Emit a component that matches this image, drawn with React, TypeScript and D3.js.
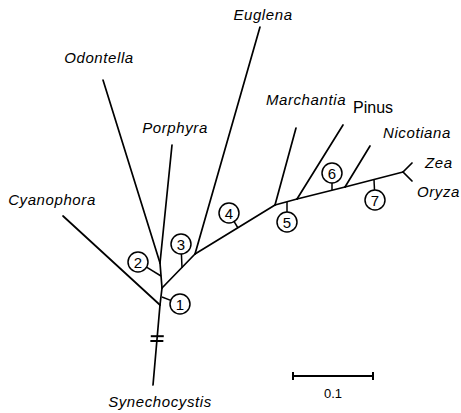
import React, { useRef, useEffect } from 'react';
import * as d3 from 'd3';

// node positions in tree units (substitutions per site), y pointing up
const nodeIds = ['root', 'syn', 'cya', 'n1', 'n2', 'odo', 'por', 'n3', 'eug', 'n4', 'mar', 'n5', 'pin', 'n6', 'nic', 'n7', 'zea', 'ory'];
const nodeX = [0, -0.00875, -0.12125, 0.0025, 0, -0.07125, 0.015, 0.04375, 0.125, 0.14375, 0.17, 0.17125, 0.22875, 0.23125, 0.2625, 0.30375, 0.315, 0.315];
const nodeY = [0, -0.1, 0.11125, 0.02125, 0.0525, 0.28125, 0.2, 0.06375, 0.3475, 0.125, 0.22125, 0.1325, 0.225, 0.1475, 0.19875, 0.16625, 0.1775, 0.155];

// branches: parent -> child
const edgeFrom = ['root', 'root', 'root', 'n1', 'n2', 'n2', 'n1', 'n3', 'n3', 'n4', 'n4', 'n5', 'n5', 'n6', 'n6', 'n7', 'n7'];
const edgeTo = ['syn', 'cya', 'n1', 'n2', 'odo', 'por', 'n3', 'eug', 'n4', 'mar', 'n5', 'pin', 'n6', 'nic', 'n7', 'zea', 'ory'];

// taxa at the tips
const tipIds = ['syn', 'cya', 'odo', 'por', 'eug', 'mar', 'pin', 'nic', 'zea', 'ory'];
const tipNames = ['Synechocystis', 'Cyanophora', 'Odontella', 'Porphyra', 'Euglena', 'Marchantia', 'Pinus', 'Nicotiana', 'Zea', 'Oryza'];

// numbered events: where the tick leaves the branch and where the circle sits
const markerLabels = ['1', '2', '3', '4', '5', '6', '7'];
const markerAttachX = [0.0025, 0.00125, 0.0275, 0.0975, 0.15875, 0.215, 0.2675];
const markerAttachY = [0.01, 0.03625, 0.04625, 0.09625, 0.12875, 0.14375, 0.15625];
const markerX = [0.025, -0.0275, 0.02625, 0.08625, 0.15875, 0.215, 0.26875];
const markerY = [0.00125, 0.05375, 0.07625, 0.115, 0.10375, 0.165, 0.13125];

const scaleBarLength = 0.1;
const scaleBarLabel = '0.1';

// label placement (px offsets from tip)
const labelLayout = {
  syn: { dx: 7, dy: 22, anchor: 'middle' },
  cya: { dx: -11, dy: -11, anchor: 'middle' },
  odo: { dx: -4, dy: -17, anchor: 'middle' },
  por: { dx: 3, dy: -12, anchor: 'middle' },
  eug: { dx: 3, dy: -7, anchor: 'middle' },
  mar: { dx: 10, dy: -23, anchor: 'middle' },
  pin: { dx: 10, dy: -12, anchor: 'start' },
  nic: { dx: 13, dy: -8, anchor: 'start' },
  zea: { dx: 13, dy: 5, anchor: 'start' },
  ory: { dx: 5, dy: 16, anchor: 'start' },
};

const App = () => {
  const ref = useRef(null);
  const width = 461;
  const height = 413;

  useEffect(() => {
    const svg = d3.select(ref.current);
    svg.selectAll('*').remove();

    const x = d3.scaleLinear().domain([0, 1]).range([160, 960]);
    const y = d3.scaleLinear().domain([0, 1]).range([305, -495]);

    const pos = {};
    nodeIds.forEach((id, i) => {
      pos[id] = [x(nodeX[i]), y(nodeY[i])];
    });

    const font = 'Liberation Sans, Arial, Helvetica, sans-serif';

    // branches
    svg.append('g')
      .selectAll('line')
      .data(edgeFrom.map((f, i) => [f, edgeTo[i]]))
      .enter()
      .append('line')
      .attr('x1', d => pos[d[0]][0])
      .attr('y1', d => pos[d[0]][1])
      .attr('x2', d => pos[d[1]][0])
      .attr('y2', d => pos[d[1]][1])
      .attr('stroke', '#000')
      .attr('stroke-width', 1.7)
      .attr('stroke-linecap', 'round');

    // break on the outgroup branch
    const [rx, ry] = pos.root;
    const [sx, sy] = pos.syn;
    [0.39, 0.45].forEach(t => {
      const cx = rx + (sx - rx) * t;
      const cy = ry + (sy - ry) * t;
      svg.append('line')
        .attr('x1', cx - 6.5)
        .attr('x2', cx + 6.5)
        .attr('y1', cy)
        .attr('y2', cy)
        .attr('stroke', '#000')
        .attr('stroke-width', 2);
    });

    // numbered markers
    const r = 10;
    markerLabels.forEach((lab, i) => {
      const ax = x(markerAttachX[i]);
      const ay = y(markerAttachY[i]);
      const cx = x(markerX[i]);
      const cy = y(markerY[i]);
      const len = Math.hypot(cx - ax, cy - ay);
      const ex = cx - ((cx - ax) / len) * r;
      const ey = cy - ((cy - ay) / len) * r;
      svg.append('line')
        .attr('x1', ax).attr('y1', ay)
        .attr('x2', ex).attr('y2', ey)
        .attr('stroke', '#000')
        .attr('stroke-width', 1.5);
      svg.append('circle')
        .attr('cx', cx).attr('cy', cy)
        .attr('r', r)
        .attr('fill', '#fff')
        .attr('stroke', '#000')
        .attr('stroke-width', 1.5);
      svg.append('text')
        .attr('x', cx)
        .attr('y', cy + 5.5)
        .attr('text-anchor', 'middle')
        .attr('font-family', font)
        .attr('font-size', '15px')
        .attr('fill', '#000')
        .text(lab);
    });

    // tip labels
    tipIds.forEach((id, i) => {
      const lay = labelLayout[id];
      const upright = id === 'pin';
      svg.append('text')
        .attr('x', pos[id][0] + lay.dx)
        .attr('y', pos[id][1] + lay.dy)
        .attr('text-anchor', lay.anchor)
        .attr('font-family', font)
        .attr('font-size', upright ? '16px' : '15px')
        .attr('font-style', upright ? 'normal' : 'italic')
        .attr('letter-spacing', upright ? '0' : '0.6')
        .attr('fill', '#000')
        .text(tipNames[i]);
    });

    // scale bar
    const bx0 = x(0.16625);
    const bx1 = x(0.16625 + scaleBarLength);
    const by = y(-0.08875);
    const bar = svg.append('g').attr('stroke', '#000').attr('stroke-width', 2);
    bar.append('line').attr('x1', bx0).attr('x2', bx1).attr('y1', by).attr('y2', by);
    bar.append('line').attr('x1', bx0).attr('x2', bx0).attr('y1', by - 4).attr('y2', by + 4);
    bar.append('line').attr('x1', bx1).attr('x2', bx1).attr('y1', by - 4).attr('y2', by + 4);
    svg.append('text')
      .attr('x', (bx0 + bx1) / 2)
      .attr('y', by + 22)
      .attr('text-anchor', 'middle')
      .attr('font-family', font)
      .attr('font-size', '13px')
      .attr('fill', '#000')
      .text(scaleBarLabel);
  }, []);

  return (
    <div style={{ position: 'absolute', left: 0, top: 0, width, height, background: '#fff' }}>
      <svg ref={ref} width={width} height={height} style={{ display: 'block' }} />
    </div>
  );
};

export default App;
